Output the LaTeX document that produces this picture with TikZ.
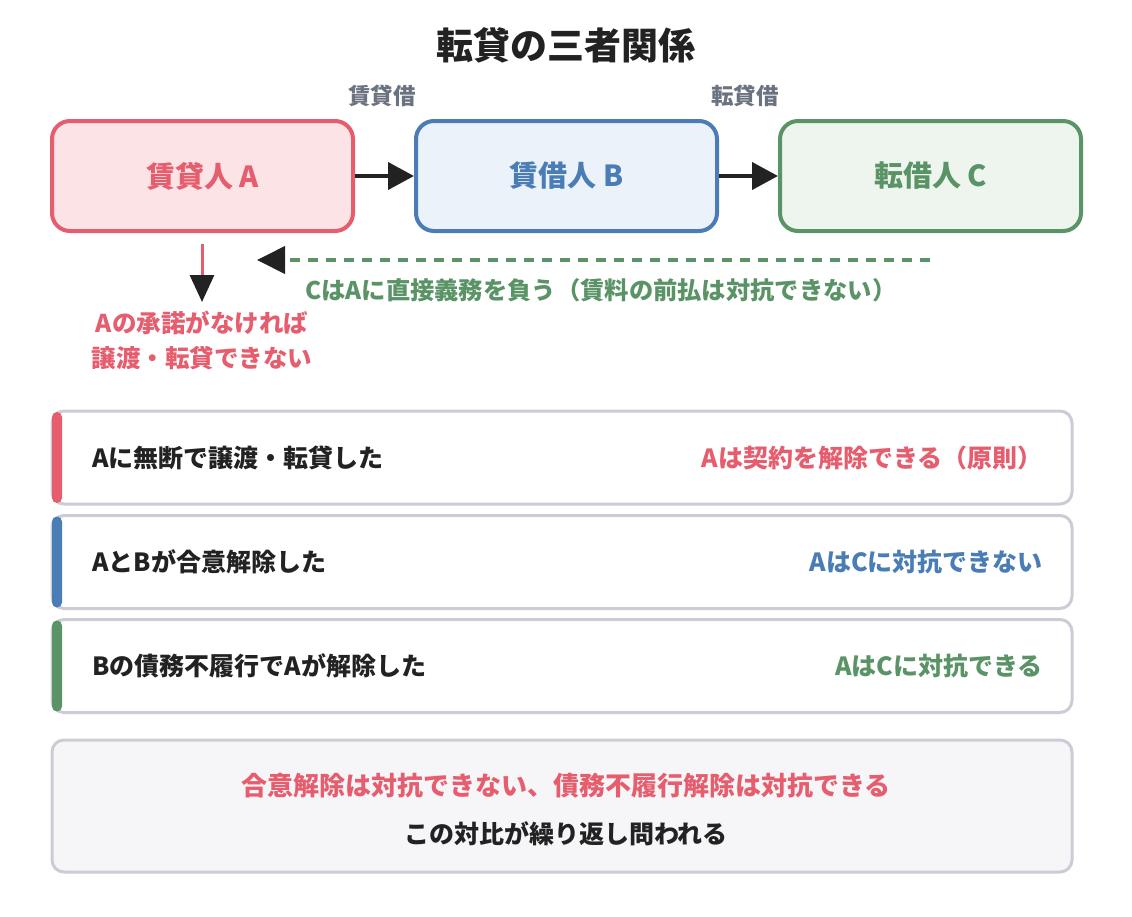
\documentclass[tikz,border=0pt]{standalone}
\usepackage{fontspec}
\setmainfont{Noto Sans CJK JP}
\usetikzlibrary{arrows.meta}
\definecolor{cred}{HTML}{E65D6E}
\definecolor{cblue}{HTML}{4A7DB5}
\definecolor{cgreen}{HTML}{5A9466}
\definecolor{fred}{HTML}{FBE3E6}
\definecolor{fblue}{HTML}{ECF2FA}
\definecolor{fgreen}{HTML}{EEF5EE}
\definecolor{cgray}{HTML}{6B7280}
\definecolor{cdark}{HTML}{222222}
\definecolor{cborder}{HTML}{CBCCD6}
\definecolor{fbottom}{HTML}{F6F6F9}
\tikzset{
  party/.style={draw, line width=4pt, rounded corners=18pt, minimum width=301pt, minimum height=110pt, inner sep=0pt, font=\fontsize{29}{34}\selectfont\bfseries},
  rowbox/.style={draw=cborder, fill=white, line width=3pt, rounded corners=12pt, minimum width=1020pt, minimum height=93pt, inner sep=0pt},
  lefttxt/.style={anchor=west, text=cdark, font=\fontsize{25}{30}\selectfont\bfseries, inner sep=0pt},
  righttxt/.style={anchor=east, font=\fontsize{25}{30}\selectfont\bfseries, inner sep=0pt},
  lbl/.style={text=cgray, font=\fontsize{22.5}{26}\selectfont\bfseries, inner sep=0pt},
  conn/.style={line width=4pt, cdark},
}
\begin{document}
\begin{tikzpicture}[x=1pt,y=-1pt]
\useasboundingbox (0,0) rectangle (1132,916);
\fill[white] (0,0) rectangle (1132,916);
% title
\node[text=cdark, font=\fontsize{37}{42}\selectfont\bfseries] (title) at (566,45) {転貸の三者関係};
\node[lbl] (l1) at (382,96) {賃貸借};
\node[lbl] (l2) at (745,96) {転貸借};
% parties
\node[party, draw=cred, fill=fred, text=cred] (A) at (202.5,176) {賃貸人 A};
\node[party, draw=cblue, fill=fblue, text=cblue] (B) at (566.5,176) {賃借人 B};
\node[party, draw=cgreen, fill=fgreen, text=cgreen] (C) at (930.5,176) {転借人 C};
\draw[conn, -{Triangle[length=26pt,width=27pt]}] (A.east) -- (B.west);
\draw[conn, -{Triangle[length=26pt,width=27pt]}] (B.east) -- (C.west);
% down arrow
\coordinate (d1) at (202,244);
\coordinate (d2) at (202,302);
\draw[line width=3pt, cred, -{Triangle[length=27pt,width=24pt,color=cdark]}] (d1) -- (d2);
\node[text=cred, font=\fontsize{24.5}{35}\selectfont\bfseries, align=center, anchor=north, inner sep=0pt] (note) at (202,311) {Aの承諾がなければ\\譲渡・転貸できない};
% dashed arrow
\coordinate (e1) at (930,260);
\coordinate (e2) at (257,260);
\draw[line width=4pt, cgreen, dash pattern=on 10pt off 8pt, -{Triangle[length=28pt,width=27pt,color=cdark]}] (e1) -- (e2);
\node[text=cgreen, font=\fontsize{24.3}{28}\selectfont\bfseries, anchor=west, inner sep=0pt] (duty) at (305,290) {CはAに直接義務を負う（賃料の前払は対抗できない）};
% rows
\node[rowbox] (r1) at (562,457.5) {};
\fill[cred, rounded corners=5pt] (52,412) rectangle (62,503);
\node[lefttxt] (r1l) at (92,457.5) {Aに無断で譲渡・転貸した};
\node[righttxt, text=cred] (r1r) at (1043,457.5) {Aは契約を解除できる（原則）};
\node[rowbox] (r2) at (562,562) {};
\fill[cblue, rounded corners=5pt] (52,516.5) rectangle (62,607.5);
\node[lefttxt] (r2l) at (92,562) {AとBが合意解除した};
\node[righttxt, text=cblue] (r2r) at (1043,562) {AはCに対抗できない};
\node[rowbox] (r3) at (562,666) {};
\fill[cgreen, rounded corners=5pt] (52,620.5) rectangle (62,711.5);
\node[lefttxt] (r3l) at (92,666) {Bの債務不履行でAが解除した};
\node[righttxt, text=cgreen] (r3r) at (1043,666) {AはCに対抗できる};
% bottom
\node[rowbox, fill=fbottom, minimum height=132pt] (bot) at (562,806) {};
\node[text=cred, font=\fontsize{26}{30}\selectfont\bfseries, inner sep=0pt] (b1) at (566,786) {合意解除は対抗できない、債務不履行解除は対抗できる};
\node[text=cdark, font=\fontsize{25}{30}\selectfont\bfseries, inner sep=0pt] (b2) at (566,834) {この対比が繰り返し問われる};
\end{tikzpicture}
\end{document}
